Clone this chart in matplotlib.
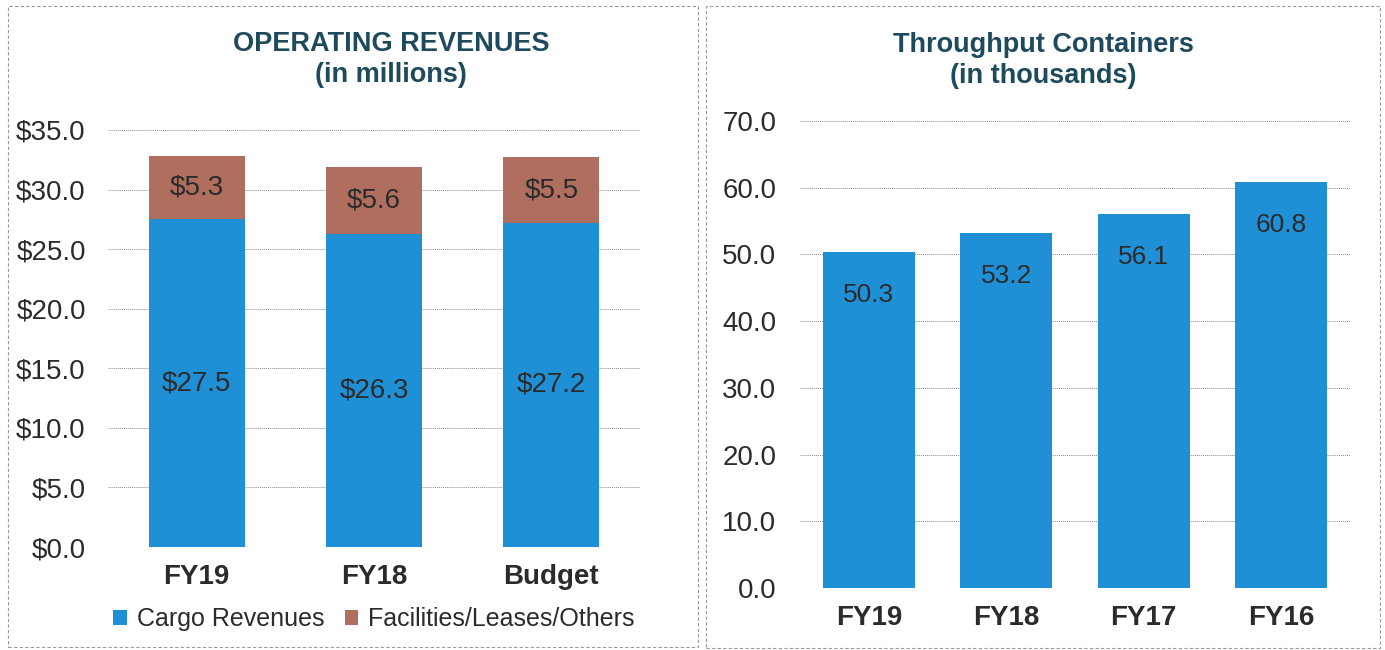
import matplotlib
matplotlib.use("Agg")
import matplotlib.pyplot as plt
from matplotlib.patches import Rectangle

plt.rcParams['font.family'] = ['Liberation Sans', 'DejaVu Sans']

# data
rev_cats = ["FY19", "FY18", "Budget"]
cargo = [27.5, 26.3, 27.2]
facilities = [5.3, 5.6, 5.5]

tp_cats = ["FY19", "FY18", "FY17", "FY16"]
throughput = [50.3, 53.2, 56.1, 60.8]

blue = "#1f8fd6"
brown = "#b06f5e"
title_col = "#1d4a5c"
txt = "#2b2b2b"

W, H = 1385, 650
fig = plt.figure(figsize=(W / 100, H / 100), dpi=100)

def px(l, t, r, b):
    return [l / W, 1 - b / H, (r - l) / W, (b - t) / H]

# panel borders
for (l, t, r, b) in [(8, 6, 698, 647), (706, 6, 1380, 648)]:
    fig.patches.append(Rectangle((l / W, 1 - b / H), (r - l) / W, (b - t) / H,
                                 transform=fig.transFigure, fill=False,
                                 edgecolor="#9a9a9a", lw=0.8, ls=(0, (3, 2))))

def style(ax, ymax, step, fmt, pad, fs):
    ax.set_ylim(0, ymax)
    ax.set_yticks([i * step for i in range(int(ymax / step) + 1)])
    ax.set_yticklabels([fmt.format(i * step) for i in range(int(ymax / step) + 1)],
                       fontsize=fs, color=txt)
    ax.yaxis.grid(True, color="#8c8c8c", lw=0.7, ls=(0, (1, 1)))
    ax.set_axisbelow(True)
    for s in ax.spines.values():
        s.set_visible(False)
    ax.tick_params(axis="y", length=0, pad=pad)
    ax.tick_params(axis="x", length=0, pad=12)
    for lab in ax.get_xticklabels():
        lab.set_fontweight("bold")
        lab.set_fontsize(20)
        lab.set_color(txt)

# left: operating revenues
ax1 = fig.add_axes(px(108, 130, 640, 547))
x1 = range(len(rev_cats))
ax1.bar(x1, cargo, width=0.54, color=blue, label="Cargo Revenues")
ax1.bar(x1, facilities, width=0.54, bottom=cargo, color=brown,
        label="Facilities/Leases/Others")
ax1.set_xlim(-0.5, 2.5)
ax1.set_xticks(list(x1))
ax1.set_xticklabels(rev_cats)
style(ax1, 35, 5, "${:.1f}", 16, 20)
for i in x1:
    ax1.text(i, cargo[i] / 2, "${:.1f}".format(cargo[i]), ha="center", va="center",
             fontsize=20, color=txt)
    ax1.text(i, cargo[i] + facilities[i] / 2, "${:.1f}".format(facilities[i]),
             ha="center", va="center", fontsize=20, color=txt)
ax1.legend(loc="center", bbox_to_anchor=(0.5, -72 / 417), ncol=2, frameon=False,
           fontsize=18, handlelength=0.55, handleheight=0.55, handletextpad=0.4,
           columnspacing=0.8, labelcolor=txt)
fig.text(391 / W, 1 - 44 / H, "OPERATING REVENUES", ha="center", va="center",
         fontsize=19.5, fontweight="bold", color=title_col)
fig.text(391 / W, 1 - 75 / H, "(in millions)", ha="center", va="center",
         fontsize=19.5, fontweight="bold", color=title_col)

# right: throughput containers
ax2 = fig.add_axes(px(800, 121, 1350, 588))
x2 = range(len(tp_cats))
ax2.bar(x2, throughput, width=0.67, color=blue)
ax2.set_xlim(-0.5, 3.5)
ax2.set_xticks(list(x2))
ax2.set_xticklabels(tp_cats)
style(ax2, 70, 10, "{:.1f}", 17, 20)
for i in x2:
    ax2.annotate("{:.1f}".format(throughput[i]), (i, throughput[i]),
                 xytext=(0, -31), textcoords="offset points", ha="center",
                 va="center", fontsize=19, color=txt)
fig.text(1043 / W, 1 - 45 / H, "Throughput Containers", ha="center", va="center",
         fontsize=19.5, fontweight="bold", color=title_col)
fig.text(1043 / W, 1 - 76 / H, "(in thousands)", ha="center", va="center",
         fontsize=19.5, fontweight="bold", color=title_col)

fig.savefig("out.png", dpi=100, facecolor="white")
